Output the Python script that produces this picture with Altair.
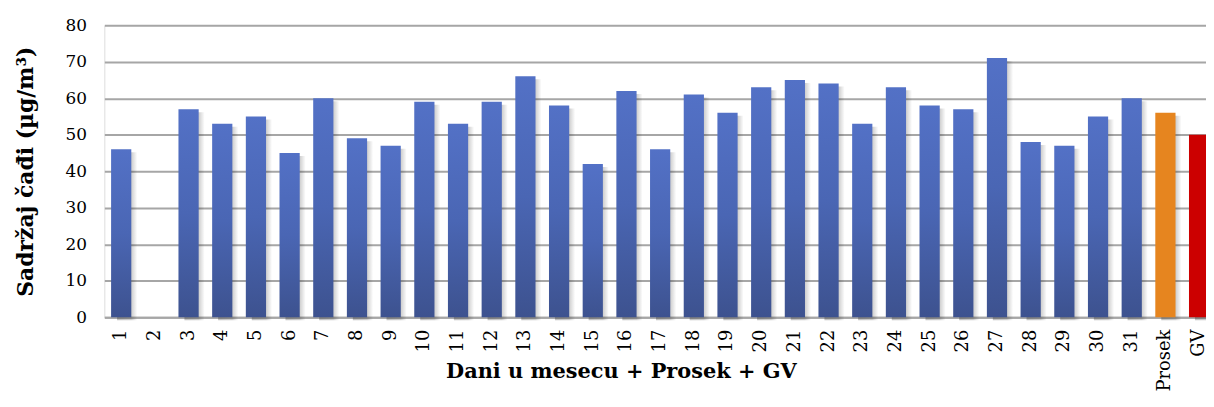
import altair as alt
import pandas as pd

categories = ["1", "2", "3", "4", "5", "6", "7", "8", "9", "10", "11", "12", "13", "14", "15",
              "16", "17", "18", "19", "20", "21", "22", "23", "24", "25", "26", "27", "28", "29",
              "30", "31", "Prosek", "GV"]
values = [46, None, 57, 53, 55, 45, 60, 49, 47, 59, 53, 59, 66, 58, 42, 62, 46, 61, 56, 63,
          65, 64, 53, 63, 58, 57, 71, 48, 47, 55, 60, 56, 50]
kinds = ["dan"] * 31 + ["Prosek", "GV"]

df = pd.DataFrame({"cat": categories, "val": values, "kind": kinds})

FONT = "DejaVu Serif"

x_enc = alt.X(
    "cat:N",
    sort=categories,
    scale=alt.Scale(domain=categories, paddingInner=0.4, paddingOuter=0.2),
    axis=alt.Axis(
        title="Dani u mesecu + Prosek + GV",
        labelAngle=270,
        labelFont=FONT,
        labelFontSize=18,
        labelColor="#000000",
        labelPadding=12,
        ticks=False,
        domainColor="#a6a6a6",
        domainWidth=2,
        titleFont=FONT,
        titleFontSize=21,
        titleFontWeight="bold",
        titleColor="#000000",
        titleX=520,
        titleY=55,
        titleBaseline="middle",
        titleAnchor="middle",
    ),
)
y_enc = alt.Y(
    "val:Q",
    scale=alt.Scale(domain=[0, 80]),
    axis=alt.Axis(
        title="Sadržaj čađi (µg/m³)",
        values=[0, 10, 20, 30, 40, 50, 60, 70, 80],
        labelFont=FONT,
        labelFontSize=17,
        labelColor="#000000",
        labelPadding=18,
        ticks=False,
        domain=False,
        gridColor="#a6a6a6",
        gridWidth=2,
        titleFont=FONT,
        titleFontSize=22,
        titleFontWeight="bold",
        titleColor="#000000",
        titlePadding=28,
    ),
)

base = alt.Chart(df).encode(x=x_enc, y=y_enc)

shadow = base.mark_bar(
    xOffset=6,
    yOffset=3,
    color=alt.Gradient(
        gradient="linear",
        x1=0, y1=0, x2=1, y2=0,
        stops=[
            alt.GradientStop(color="rgba(0,0,0,0.25)", offset=0),
            alt.GradientStop(color="rgba(0,0,0,0.2)", offset=0.7),
            alt.GradientStop(color="rgba(0,0,0,0)", offset=1),
        ],
    ),
)

days = base.transform_filter(alt.datum.kind == "dan").mark_bar(
    color=alt.Gradient(
        gradient="linear",
        x1=0, y1=0, x2=0, y2=1,
        stops=[
            alt.GradientStop(color="#5371c6", offset=0),
            alt.GradientStop(color="#4a66b4", offset=0.5),
            alt.GradientStop(color="#3d528f", offset=1),
        ],
    )
)

prosek = base.transform_filter(alt.datum.kind == "Prosek").mark_bar(color="#e6851f")
gv = base.transform_filter(alt.datum.kind == "GV").mark_bar(color="#cc0000")

chart = (
    alt.layer(shadow, days, prosek, gv)
    .properties(
        width=1119,
        height=294,
        autosize=alt.AutoSizeParams(type="none"),
        padding={"left": 97, "top": 16, "right": -10, "bottom": 81},
    )
    .configure_view(stroke=None)
    .configure(background="#ffffff")
)

chart.save("out.html", embed_options={"renderer": "svg", "actions": False})
